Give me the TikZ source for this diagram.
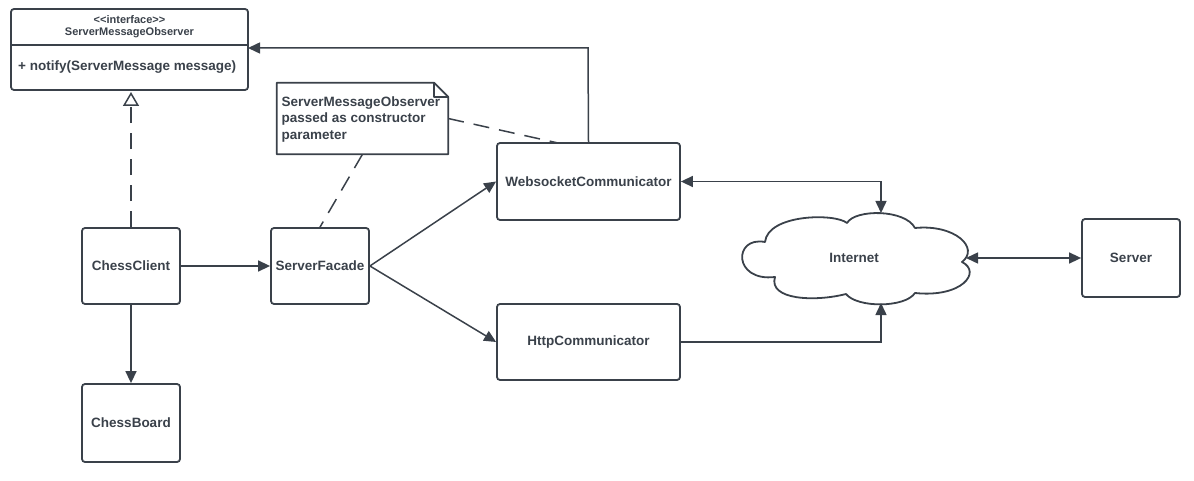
\documentclass[tikz,border=0pt]{standalone}
\usepackage{fontspec}
\setmainfont{Liberation Sans}
\usetikzlibrary{arrows.meta,calc}
\definecolor{ink}{HTML}{3A414A}
\begin{document}
\begin{tikzpicture}[x=1pt,y=-1pt,
  every node/.style={text=ink},
  lbl/.style={font=\bfseries\fontsize{13.5}{16.5}\selectfont},
  box/.style={draw=ink, line width=1.8pt, rounded corners=3pt, lbl},
  conn/.style={draw=ink, line width=1.5pt},
  tip/.style={-{Triangle[length=12pt,width=11pt]}},
  dtip/.style={{Triangle[length=12pt,width=11pt]}-{Triangle[length=12pt,width=11pt]}},
  dashline/.style={draw=ink, line width=1.5pt, dash pattern=on 16pt off 10pt}
]
\useasboundingbox (0,0) rectangle (1194,481);

% interface
\node[box, minimum width=237pt, minimum height=81pt, inner sep=0pt] (iface) at (129.5,49.5) {};
\draw[ink, line width=1.8pt] (iface.west |- 0,45) -- (iface.east |- 0,45);
\node[font=\bfseries\fontsize{11}{13}\selectfont, inner sep=0pt] (stereo) at (129.5,20) {<{}<interface>{}>};
\node[font=\bfseries\fontsize{11}{13}\selectfont, inner sep=0pt] (iname) at (129.5,33) {ServerMessageObserver};
\node[lbl, inner sep=0pt, anchor=west] (op) at (18,67) {+ notify(ServerMessage message)};

% classes
\node[box, minimum width=98pt, minimum height=76pt] (cc) at (131,266) {ChessClient};
\node[box, minimum width=98pt, minimum height=78pt] (cb) at (131,423) {ChessBoard};
\node[box, minimum width=98pt, minimum height=76pt] (sf) at (320,266) {ServerFacade};
\node[box, minimum width=183pt, minimum height=77pt] (ws) at (588.5,181.5) {WebsocketCommunicator};
\node[box, minimum width=183pt, minimum height=76pt] (hc) at (588.5,342) {HttpCommunicator};
\node[box, minimum width=98pt, minimum height=78pt] (srv) at (1131,258) {Server};

% note
\node[minimum width=171pt, minimum height=71pt, inner sep=0pt] (note) at (362.5,118.5) {};
\draw[ink, line width=1.8pt, line join=round] (note.north west) -- ($(note.north east)+(-14,0)$) -- ($(note.north east)+(0,14)$) -- (note.south east) -- (note.south west) -- cycle;
\draw[ink, line width=1.5pt, line join=round] ($(note.north east)+(-14,0)$) -- ($(note.north east)+(-14,14)$) -- ($(note.north east)+(0,14)$);
\node[anchor=north west, align=left, inner sep=0pt, lbl] (notetext) at (281.5,96.5) {ServerMessageObserver\\passed as constructor\\parameter};

% cloud
\draw[ink, line width=1.8pt, line join=round]
  (765,242) .. controls (768,214) and (835,213) .. (847,223)
  .. controls (855,209) and (905,209) .. (915,228)
  .. controls (955,224) and (980,248) .. (962,262)
  .. controls (982,272) and (962,298) .. (915,293)
  .. controls (905,308) and (857,308) .. (846,294)
  .. controls (815,302) and (768,300) .. (775,277)
  .. controls (733,282) and (733,236) .. cycle;
\node[lbl, inner sep=0pt] (net) at (854,258) {Internet};
\coordinate (nettop) at (881,213);
\coordinate (netbot) at (881,303);
\coordinate (neteast) at (966,258);
\coordinate (wsjoin) at (558,143);
\coordinate (elbow) at (588,48);
\coordinate (ifaceport) at (248,48);
\coordinate (realtip) at (131,92);

% connectors
\draw[conn, dash pattern=on 16pt off 10pt, -{Triangle[open,length=14pt,width=16pt]}] (cc.north) -- (realtip);
\draw[conn, tip] (cc.south) -- (cb.north);
\draw[conn, tip] (cc.east) -- (sf.west);
\draw[conn, tip] (sf.east) -- (ws.west);
\draw[conn, tip] (sf.east) -- (hc.west);
\draw[conn, tip] (ws.north) -- (elbow) -- (ifaceport);
\draw[dashline] (note.south) -- (sf.north);
\draw[dashline] (note.east) -- (wsjoin);
\draw[conn, dtip] (ws.east) -| (nettop);
\draw[conn, tip] (hc.east) -| (netbot);
\draw[conn, dtip] (neteast) -- (srv.west);
\end{tikzpicture}
\end{document}
